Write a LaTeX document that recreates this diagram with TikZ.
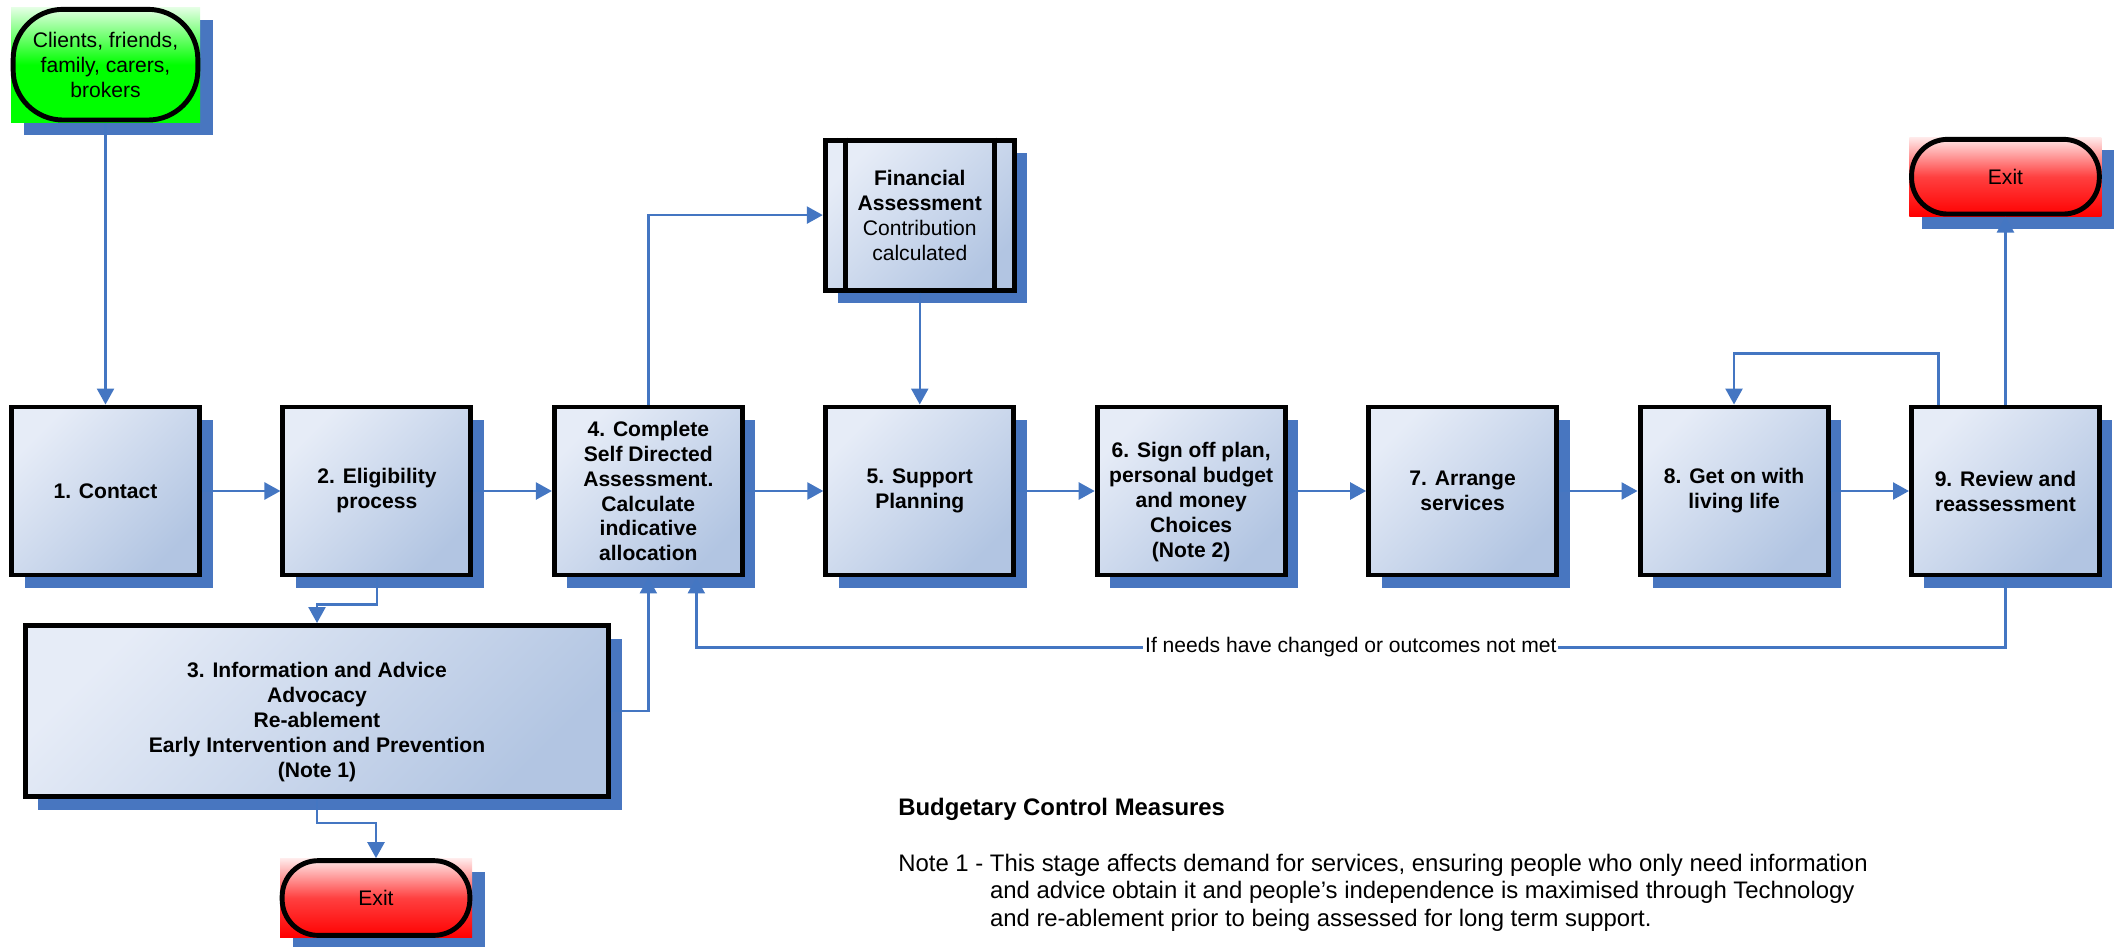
\documentclass[tikz,border=0pt]{standalone}
\usepackage{fontspec}
\setmainfont{Liberation Sans}
\usepackage{xcolor}
\usepackage{tikz}
\usetikzlibrary{arrows.meta,positioning,shadows}
\definecolor{colshadow}{RGB}{72,118,192}
\definecolor{colline}{RGB}{68,118,194}
\definecolor{collight}{RGB}{230,236,247}
\definecolor{coldark}{RGB}{178,197,226}
\definecolor{colgreen}{RGB}{0,255,0}
\definecolor{colred}{RGB}{255,0,0}
\newcommand{\lowtext}[1]{\raisebox{-0.23cm}[\height][\depth]{\begin{tabular}{@{}c@{}}#1\end{tabular}}}

\begin{document}
\begin{tikzpicture}[
  node distance=1.57cm,
  stage/.style={rectangle, draw=black, line width=2.8pt,
                top color=collight, bottom color=coldark, shading angle=45,
                drop shadow={shadow xshift=0.26cm, shadow yshift=-0.26cm,
                             fill=colshadow, opacity=1},
                minimum width=3.76cm, minimum height=3.36cm, inner sep=2pt,
                align=center, font=\fontsize{12}{14.2}\selectfont\bfseries},
  term/.style={rectangle, shading angle=45, inner sep=2pt,
               drop shadow={shadow xshift=0.26cm, shadow yshift=-0.26cm,
                            fill=colshadow, opacity=1},
               align=center, font=\fontsize{12}{14.2}\selectfont},
  exitterm/.style={term, top color=colred!8!white, bottom color=colred,
                   middle color=colred!75!white,
                   minimum width=3.84cm, minimum height=1.58cm},
  outline/.style={draw=black, line width=2.8pt},
  link/.style={-{Triangle[length=0.32cm, width=0.34cm]}, line width=1.4pt, draw=colline},
  remark/.style={font=\fontsize{12}{14.2}\selectfont, fill=white, inner sep=1pt},
  notes/.style={font=\fontsize{13.6}{15.6}\selectfont, inner sep=0pt, align=left}
]
  \useasboundingbox (0,0) rectangle (42.32,-18.94);

  % main row of stages
  \node[stage] (contact) at (2.11,-9.82) {1. Contact};
  \node[stage, right=of contact] (elig) {2. Eligibility\\process};
  \node[stage, right=of elig] (selfdir) {4. Complete\\Self Directed\\Assessment.\\Calculate\\indicative\\allocation};
  \node[stage, right=of selfdir] (support) {5. Support\\Planning};
  \node[stage, right=of support] (signoff) {\lowtext{6. Sign off plan,\\personal budget\\and money\\Choices\\(Note 2)}};
  \node[stage, right=of signoff] (arrange) {7. Arrange\\services};
  \node[stage, right=of arrange] (living) {8. Get on with\\living life};
  \node[stage, right=of living] (review) {9. Review and\\reassessment};

  \node[stage, above=2.24cm of support, minimum width=3.78cm, minimum height=3.0cm,
        font=\fontsize{12}{14.2}\selectfont] (finance)
        {\textbf{Financial}\\\textbf{Assessment}\\Contribution\\calculated};
  \node[stage, minimum width=11.66cm, minimum height=3.42cm] (info) at (6.34,-14.22)
        {\lowtext{3. Information and Advice\\Advocacy\\Re-ablement\\Early Intervention and Prevention\\(Note 1)}};

  % terminals
  \node[term, top color=colgreen!10!white, bottom color=colgreen, middle color=colgreen,
        minimum width=3.78cm, minimum height=2.30cm, above=5.64cm of contact] (start)
        {Clients, friends,\\family, carers,\\brokers};
  \node[exitterm, above=3.76cm of review] (exittop) {Exit};
  \node[exitterm] (exitbot) at (7.52,-17.96) {Exit};

  \foreach \t/\r in {start/1.0, exittop/0.72, exitbot/0.72}
    \draw[outline, rounded corners=\r cm] ([shift={(0.05,0.05)}]\t.south west)
      rectangle ([shift={(-0.05,-0.05)}]\t.north east);
  \draw[outline] ([xshift=0.45cm]finance.north west) -- ([xshift=0.45cm]finance.south west);
  \draw[outline] ([xshift=-0.45cm]finance.north east) -- ([xshift=-0.45cm]finance.south east);

  % connectors
  \draw[link] (start) -- (contact);
  \foreach \a/\b in {contact/elig, elig/selfdir, selfdir/support, support/signoff,
                     signoff/arrange, arrange/living, living/review}
    \draw[link] (\a) -- (\b);
  \draw[link] (elig.south) -- ++(0,-0.54) -| (info.north);
  \draw[link] (info.east) -| (selfdir.south);
  \draw[link] (info.south) -- ++(0,-0.48) -| (exitbot.north);
  \draw[link] (selfdir.north) |- (finance.west);
  \draw[link] (finance) -- (support);
  \draw[link] (review.south) -- ++(0,-1.4)
    -| node[remark, pos=0.25] {If needs have changed or outcomes not met}
    ([xshift=0.96cm]selfdir.south);
  \draw[link] ([xshift=-1.34cm]review.north) -- ++(0,1.02) -| (living.north);
  \draw[link] (review) -- (exittop);

  % budget notes
  \node[notes, font=\fontsize{13.6}{15.6}\selectfont\bfseries, anchor=base west] (budget)
    at (17.96,-16.31) {Budgetary Control Measures};
  \node[notes, anchor=north west] (note) at (17.96,-17.07)
    {Note 1 - This stage affects demand for services, ensuring people who only need information\\
     \hphantom{Note 1 - }and advice obtain it and people’s independence is maximised through Technology\\
     \hphantom{Note 1 - }and re-ablement prior to being assessed for long term support.};
\end{tikzpicture}
\end{document}
